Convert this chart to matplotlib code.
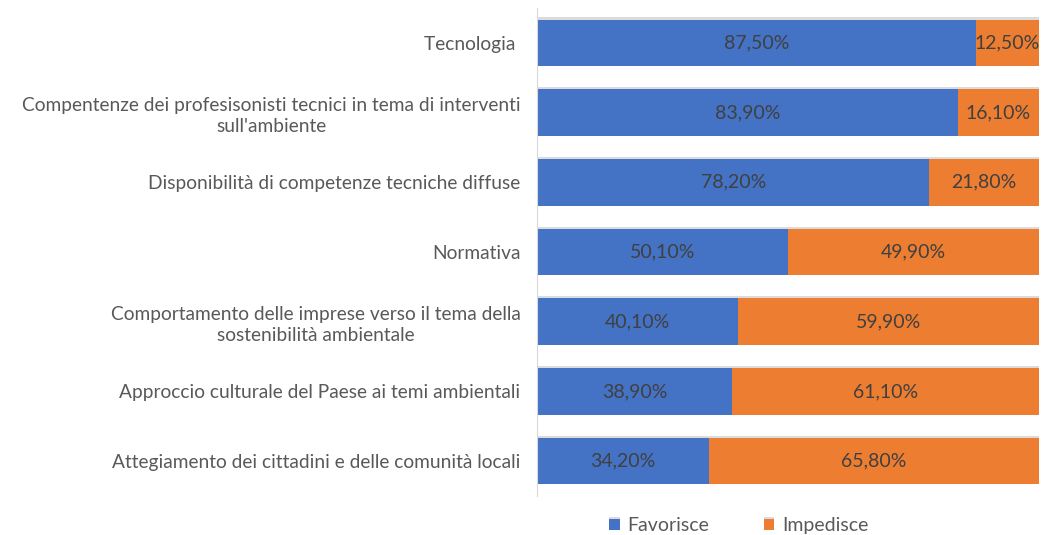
import matplotlib.pyplot as plt
import matplotlib.patheffects as pe

# Data
categories = [
    "Tecnologia ",
    "Compentenze dei profesisonisti tecnici in tema di interventi\nsull'ambiente",
    "Disponibilità di competenze tecniche diffuse",
    "Normativa",
    "Comportamento delle imprese verso il tema della\nsostenibilità ambientale",
    "Approccio culturale del Paese ai temi ambientali",
    "Attegiamento dei cittadini e delle comunità locali",
]
favorisce = [87.5, 83.9, 78.2, 50.1, 40.1, 38.9, 34.2]
impedisce = [12.5, 16.1, 21.8, 49.9, 59.9, 61.1, 65.8]
series_names = ["Favorisce", "Impedisce"]

blue = '#4472C4'
orange = '#ED7D31'
label_col = '#595959'
value_col = '#404040'

plt.rcParams['font.family'] = ['Lato', 'DejaVu Sans']

fig = plt.figure(figsize=(10.45, 5.35), dpi=100)
ax = fig.add_axes([0.514, 0.073, 0.48, 0.912])

y = list(range(len(categories)))
shadow = [pe.SimplePatchShadow(offset=(0, 1.5), shadow_rgbFace='#999999', alpha=0.35), pe.Normal()]

b1 = ax.barh(y, favorisce, height=0.67, color=blue, label=series_names[0])
b2 = ax.barh(y, impedisce, left=favorisce, height=0.67, color=orange, label=series_names[1])
for bar in list(b1) + list(b2):
    bar.set_path_effects(shadow)

def fmt(v):
    return f"{v:.2f}%".replace('.', ',')

for i in y:
    ax.text(favorisce[i] / 2, i, fmt(favorisce[i]), ha='center', va='center',
            fontsize=14, color=value_col)
    ax.text(favorisce[i] + impedisce[i] / 2, i, fmt(impedisce[i]), ha='center', va='center',
            fontsize=14, color=value_col)

ax.set_xlim(0, 100)
ax.set_ylim(6.5, -0.5)
ax.set_yticks(y)
ax.set_yticklabels(categories, fontsize=13.8, color=label_col, multialignment='center',
                   linespacing=1.3)
ax.tick_params(axis='y', length=0, pad=12)
ax.set_xticks([])
for s in ['top', 'right', 'bottom']:
    ax.spines[s].set_visible(False)
ax.spines['left'].set_color('#D9D9D9')

fig.legend(handles=[b1, b2], labels=series_names, loc='center', bbox_to_anchor=(0.707, 0.017),
           ncol=2, frameon=False, fontsize=14, handlelength=0.55, handleheight=0.55,
           columnspacing=2.8, handletextpad=0.4, labelcolor=label_col)

fig.savefig('out.png', dpi=100)
